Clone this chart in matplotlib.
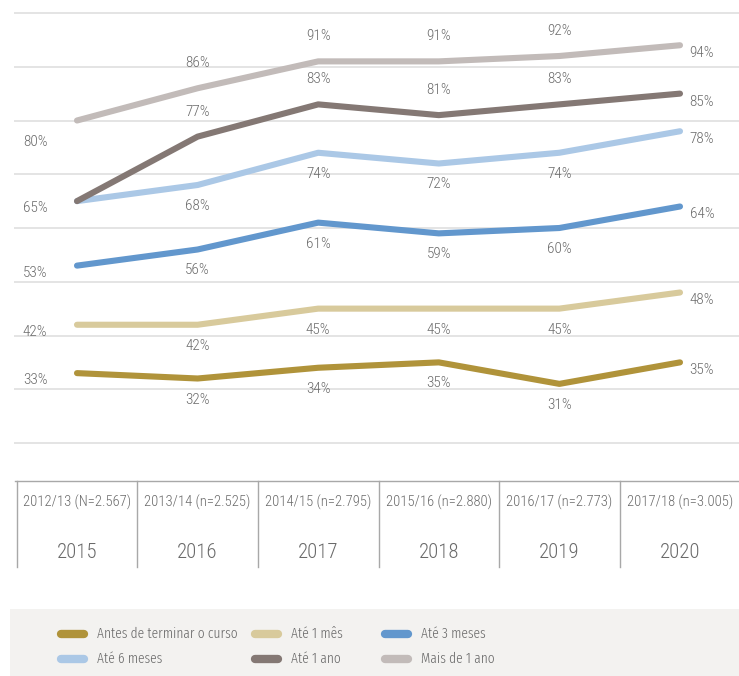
import matplotlib
matplotlib.use('Agg')
import matplotlib.pyplot as plt

plt.rcParams['font.family'] = ['Roboto Condensed', 'DejaVu Sans']
plt.rcParams['font.weight'] = 300

years = ['2015', '2016', '2017', '2018', '2019', '2020']
cohorts = ['2012/13 (N=2.567)', '2013/14 (n=2.525)', '2014/15 (n=2.795)',
           '2015/16 (n=2.880)', '2016/17 (n=2.773)', '2017/18 (n=3.005)']
series_names = ['Antes de terminar o curso', 'Até 1 mês', 'Até 3 meses',
                'Até 6 meses', 'Até 1 ano', 'Mais de 1 ano']
antes = [33, 32, 34, 35, 31, 35]
ate_1_mes = [42, 42, 45, 45, 45, 48]
ate_3_meses = [53, 56, 61, 59, 60, 64]
ate_6_meses = [65, 68, 74, 72, 74, 78]
ate_1_ano = [65, 77, 83, 81, 83, 85]
mais_1_ano = [80, 86, 91, 91, 92, 94]

series = [antes, ate_1_mes, ate_3_meses, ate_6_meses, ate_1_ano, mais_1_ano]
colors = ['#b0933a', '#d8ca9c', '#6297cd', '#abc8e6', '#847874', '#c2bbb9']
above = [False, False, False, False, True, True]
first_dy = [7, 7, 7, 7, 3, 21]   # pixel offsets (downwards) of first labels

TXT = '#6a6a6a'
W, H = 739, 676
fig = plt.figure(figsize=(W / 100, H / 100), dpi=100)

# ---- main chart ----
x0px, pxu = 77, 120.6
xl = ((14 - x0px) / pxu, (739 - x0px) / pxu)
ax = fig.add_axes([14 / W, 1 - 453.75 / H, (739 - 14) / W, (453.75 - 2.25) / H])
ax.set_xlim(*xl)
ax.set_ylim(18, 102)
ax.set_yticks(range(20, 101, 10))
ax.set_xticks([])
ax.grid(axis='y', color='#e4e4e4', lw=1.4)
ax.tick_params(left=False, labelleft=False)
for s in ax.spines.values():
    s.set_visible(False)

xs = list(range(len(years)))
labeled_first = set()
for k, (vals, c) in enumerate(zip(series, colors)):
    ax.plot(xs, vals, color=c, lw=4.4, solid_capstyle='round',
            solid_joinstyle='round', zorder=3 + k)
    for i, v in enumerate(vals):
        if i == 0:
            if v in labeled_first:
                continue
            labeled_first.add(v)
            off = (-42, -first_dy[k])
        elif i == len(vals) - 1:
            off = (22, -8)
        else:
            off = (0, 25) if above[k] else (0, -21)
        ax.annotate(f'{v}%', (i, v), xytext=off, textcoords='offset pixels',
                    ha='center', va='center', fontsize=11, color=TXT)

# ---- table ----
tax = fig.add_axes([14 / W, 1 - 580 / H, (739 - 14) / W, (580 - 470) / H])
tax.set_xlim(*xl)
tax.set_ylim(580, 470)
tax.axis('off')
tax.plot([xl[0] + 0.01, xl[1]], [481, 481], color='#a8a8a8', lw=1)
for i in range(len(years)):
    tax.plot([i - 0.5, i - 0.5], [481, 567], color='#a8a8a8', lw=1)
    tax.text(i, 502, cohorts[i], ha='center', va='center', fontsize=10.5, color=TXT)
    tax.text(i, 553, years[i], ha='center', va='center', fontsize=15, color=TXT)

# ---- legend ----
lax = fig.add_axes([10 / W, 0, (739 - 10) / W, (676 - 609) / H])
lax.set_xlim(10, 739)
lax.set_ylim(676, 609)
lax.set_facecolor('#f3f2f0')
for s in lax.spines.values():
    s.set_visible(False)
lax.set_xticks([])
lax.set_yticks([])
col_x = [58, 252, 382]
row_y = [634, 659]
for k, (name, c) in enumerate(zip(series_names, colors)):
    r, cidx = divmod(k, 3)
    hx = col_x[cidx]
    lax.plot([hx + 3, hx + 26], [row_y[r], row_y[r]], color=c, lw=6,
             solid_capstyle='round')
    lax.text(hx + 39, row_y[r], name, ha='left', va='center', fontsize=10.5,
             color=TXT, family=['Fira Sans Extra Condensed', 'Roboto Condensed', 'DejaVu Sans'])

fig.savefig('out.png', dpi=100)
